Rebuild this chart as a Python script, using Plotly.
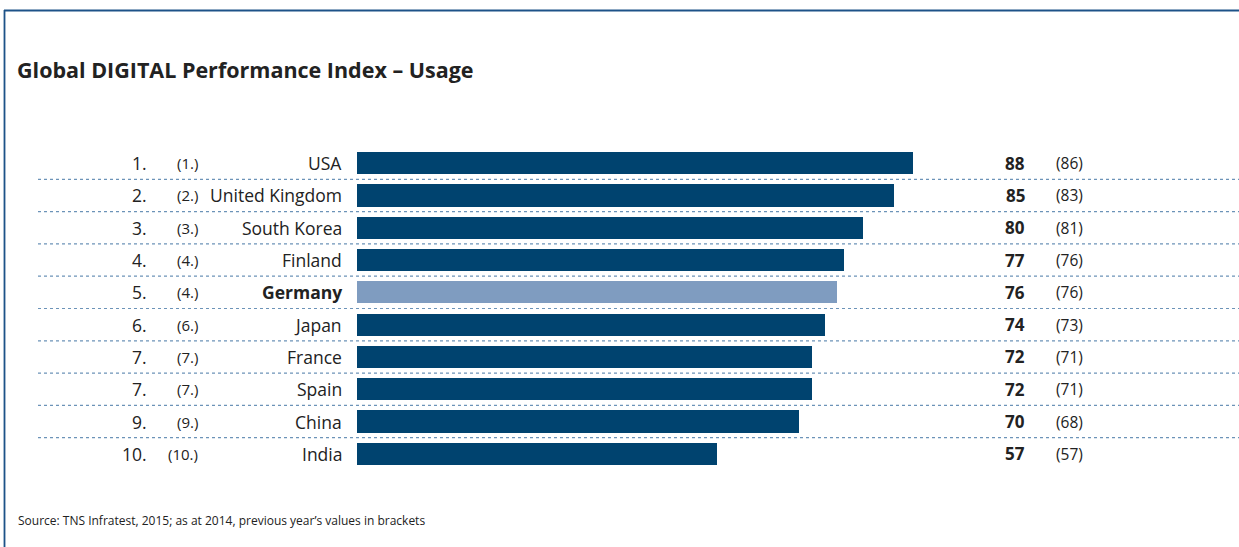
import plotly.graph_objects as go

ranks = ["1.", "2.", "3.", "4.", "5.", "6.", "7.", "7.", "9.", "10."]
prev_ranks = ["(1.)", "(2.)", "(3.)", "(4.)", "(4.)", "(6.)", "(7.)", "(7.)", "(9.)", "(10.)"]
countries = ["USA", "United Kingdom", "South Korea", "Finland", "Germany",
             "Japan", "France", "Spain", "China", "India"]
values = [88, 85, 80, 77, 76, 74, 72, 72, 70, 57]
prev_values = [86, 83, 81, 76, 76, 73, 71, 71, 68, 57]

DARK = "#00436f"
LIGHT = "#7f9cc0"
TEXT = "#222222"
FONT = "Open Sans"

W, H = 1239, 547
L, R_M = 357, 250
T, B_M = 147, 77
PW = W - L - R_M
PH = H - T - B_M

def px(x):
    return (x - L) / PW

def py(y):
    return (H - B_M - y) / PH

rows = list(range(len(countries)))
colors = [LIGHT if c == "Germany" else DARK for c in countries]

fig = go.Figure()
fig.add_trace(go.Bar(
    x=values, y=rows, orientation="h", marker=dict(color=colors, line=dict(width=0)),
    width=0.69, hoverinfo="skip", showlegend=False,
))

ann = []
for i in rows:
    bold = countries[i] == "Germany"
    ann.append(dict(x=px(149), y=i, xref="paper", yref="y", text=ranks[i],
                    xanchor="right", yanchor="middle", showarrow=False,
                    font=dict(size=17.5, color=TEXT, family=FONT)))
    ann.append(dict(x=px(200), y=i, xref="paper", yref="y", text=prev_ranks[i],
                    xanchor="right", yanchor="middle", showarrow=False,
                    font=dict(size=15, color=TEXT, family=FONT)))
    ann.append(dict(x=px(344), y=i, xref="paper", yref="y",
                    text=f"<b>{countries[i]}</b>" if bold else countries[i],
                    xanchor="right", yanchor="middle", showarrow=False,
                    font=dict(size=17.5, color=TEXT, family=FONT)))
    ann.append(dict(x=px(1027), y=i, xref="paper", yref="y", text=f"<b>{values[i]}</b>",
                    xanchor="right", yanchor="middle", showarrow=False,
                    font=dict(size=17, color=TEXT, family=FONT)))
    ann.append(dict(x=px(1054), y=i, xref="paper", yref="y", text=f"({prev_values[i]})",
                    xanchor="left", yanchor="middle", showarrow=False,
                    font=dict(size=15.5, color=TEXT, family=FONT)))

ann.append(dict(x=px(15), y=py(69), xref="paper", yref="paper",
                text="<b>Global DIGITAL Performance Index – Usage</b>",
                xanchor="left", yanchor="middle", showarrow=False,
                font=dict(size=21.5, color=TEXT, family=FONT)))
ann.append(dict(x=px(16), y=py(520), xref="paper", yref="paper",
                text="Source: TNS Infratest, 2015; as at 2014, previous year’s values in brackets",
                xanchor="left", yanchor="middle", showarrow=False,
                font=dict(size=12, color=TEXT, family=FONT)))

shapes = []
for i in rows[:-1]:
    shapes.append(dict(type="line", xref="paper", yref="y",
                       x0=px(38), x1=px(1239), y0=i + 0.5, y1=i + 0.5,
                       line=dict(color="#6c93b8", width=1.2, dash="dot")))
shapes.append(dict(type="line", xref="paper", yref="paper",
                   x0=px(4), x1=px(1240), y0=py(10.5), y1=py(10.5),
                   line=dict(color="#1d5288", width=1.8)))
shapes.append(dict(type="line", xref="paper", yref="paper",
                   x0=px(4.5), x1=px(4.5), y0=py(10), y1=py(548),
                   line=dict(color="#1d5288", width=1.8)))

fig.update_layout(
    width=W, height=H,
    margin=dict(l=L, r=R_M, t=T, b=B_M),
    paper_bgcolor="white", plot_bgcolor="white",
    xaxis=dict(range=[0, PW / 6.32], visible=False, fixedrange=True),
    yaxis=dict(range=[9.5, -0.5], visible=False, fixedrange=True),
    annotations=ann, shapes=shapes, bargap=0,
)

fig.write_html("out.html", config=dict(displayModeBar=False),
               post_script="document.body.style.margin='0';document.body.style.overflow='hidden';")
